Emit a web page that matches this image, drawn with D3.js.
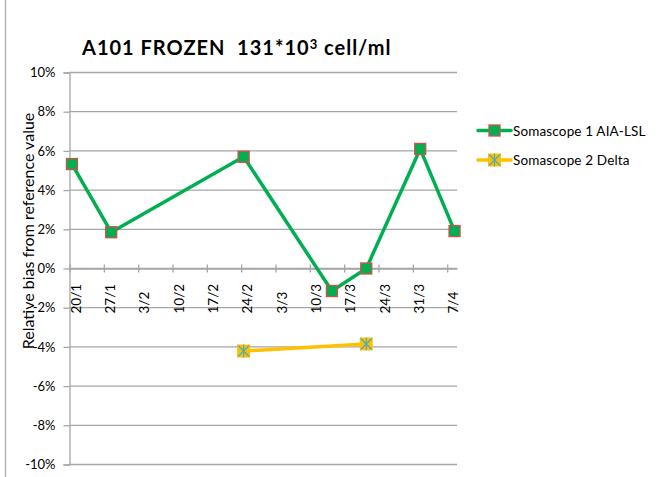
<!DOCTYPE html>
<html>
<head>
<meta charset="utf-8">
<script src="https://cdn.jsdelivr.net/npm/d3@7"></script>
<style>
  html, body { margin: 0; padding: 0; background: #ffffff; }
  svg { display: block; }
  text { font-family: Lato, "Open Sans", sans-serif; fill: #000; }
</style>
</head>
<body>
<svg id="chart" width="659" height="477"></svg>
<script>
// ---- data ----
const titleMain = "A101 FROZEN  131*10";
const titleSup = "3";
const titleEnd = " cell/ml";
const yAxisLabel = "Relative bias from reference value";
const yTicks = [-0.10, -0.08, -0.06, -0.04, -0.02, 0, 0.02, 0.04, 0.06, 0.08, 0.10];
const xTickLabels = ["20/1", "27/1", "3/2", "10/2", "17/2", "24/2", "3/3", "10/3", "17/3", "24/3", "31/3", "7/4"];
const series1Name = "Somascope 1 AIA-LSL";
const series1Dates = ["2015-01-20", "2015-01-28", "2015-02-24", "2015-03-14", "2015-03-21", "2015-04-01", "2015-04-08"];
const series1Values = [0.0533, 0.0185, 0.0570, -0.0115, 0.0000, 0.0610, 0.0191];
const series2Name = "Somascope 2 Delta";
const series2Dates = ["2015-02-24", "2015-03-21"];
const series2Values = [-0.0421, -0.0385];
const xDomainStart = "2015-01-20";
const xDomainEnd = "2015-04-09";

// ---- setup ----
const svg = d3.select("#chart");
const parse = d3.utcParse("%Y-%m-%d");
const pLeft = 69.5, pRight = 457, pTop = 72.5, pBottom = 464.5;

const x = d3.scaleUtc().domain([parse(xDomainStart), parse(xDomainEnd)]).range([pLeft, pRight]);
const y = d3.scaleLinear().domain([-0.10, 0.10]).range([pBottom, pTop]);
const mid = d => d3.utcHour.offset(parse(d), 12);
const pct = d => d3.format(".0%")(d).replace("\u2212", "-");

// chart border on left
svg.append("line").attr("x1", 5.5).attr("x2", 5.5).attr("y1", 0).attr("y2", 477)
  .attr("stroke", "#b3b3b3").attr("stroke-width", 1.5);

// gridlines
svg.append("g").selectAll("line").data(yTicks).join("line")
  .attr("x1", pLeft).attr("x2", pRight)
  .attr("y1", d => y(d)).attr("y2", d => y(d))
  .attr("stroke", "#a6a6a6").attr("stroke-width", 1.3);

// y axis
const yAxis = d3.axisLeft(y).tickValues(yTicks).tickSize(6).tickPadding(8).tickFormat(pct);
const gy = svg.append("g").attr("transform", `translate(${pLeft},0)`).call(yAxis);
gy.select(".domain").attr("stroke", "#a6a6a6").attr("stroke-width", 1.3);
gy.selectAll(".tick line").attr("stroke", "#a6a6a6").attr("stroke-width", 1.3);
gy.selectAll(".tick text").style("font-family", "Lato, sans-serif").style("font-size", "13px").attr("fill", "#000");

// x axis at zero
const tickDates = xTickLabels.map((lbl, i) => d3.utcDay.offset(parse(xDomainStart), i * 7));
const xAxis = d3.axisBottom(x).tickValues(tickDates).tickSize(0).tickFormat(() => "");
const gx = svg.append("g").attr("transform", `translate(0,${y(0)})`).call(xAxis);
gx.select(".domain").attr("stroke", "#a6a6a6").attr("stroke-width", 1.3);
gx.selectAll(".tick line").attr("y1", -4).attr("y2", 4).attr("stroke", "#a6a6a6").attr("stroke-width", 1.3);
gx.selectAll(".tick").append("text")
  .attr("transform", "translate(5.5,45) rotate(-90)")
  .attr("text-anchor", "start")
  .attr("dominant-baseline", "central")
  .style("font-family", "Lato, sans-serif")
  .style("font-size", "13.5px")
  .attr("fill", "#000")
  .text((d, i) => xTickLabels[i]);

// y axis label
svg.append("text")
  .attr("transform", `translate(27,231) rotate(-90)`)
  .attr("text-anchor", "middle")
  .attr("dominant-baseline", "central")
  .style("font-size", "16px")
  .text(yAxisLabel);

// title
const t = svg.append("text").attr("x", 82).attr("y", 55)
  .style("font-size", "20px").style("font-weight", "bold")
  .style("letter-spacing", "1px")
  .style("white-space", "pre");
t.append("tspan").text(titleMain);
t.append("tspan").attr("dy", -6).style("font-size", "13px").text(titleSup);
t.append("tspan").attr("dy", 6).text(titleEnd);

// lines
const line = d3.line().x(d => x(d.date)).y(d => y(d.v));
const s1 = series1Dates.map((d, i) => ({ date: mid(d), v: series1Values[i] }));
const s2 = series2Dates.map((d, i) => ({ date: mid(d), v: series2Values[i] }));

svg.append("path").datum(s1).attr("d", line).attr("fill", "none")
  .attr("stroke", "#00b050").attr("stroke-width", 3.5).attr("stroke-linejoin", "round");
svg.append("path").datum(s2).attr("d", line).attr("fill", "none")
  .attr("stroke", "#ffc000").attr("stroke-width", 3.5).attr("stroke-linejoin", "round");

// markers
function squareMarker(g, cx, cy) {
  g.append("rect").attr("x", cx - 5.5).attr("y", cy - 5.5).attr("width", 11).attr("height", 11)
    .attr("fill", "#00b050").attr("stroke", "#d0504d").attr("stroke-width", 1.3);
}
function starMarker(g, cx, cy) {
  g.append("rect").attr("x", cx - 6.5).attr("y", cy - 6.5).attr("width", 13).attr("height", 13)
    .attr("fill", "#ffc000");
  const s = 5.5;
  g.append("path")
    .attr("d", `M${cx - s},${cy - s}L${cx + s},${cy + s}M${cx - s},${cy + s}L${cx + s},${cy - s}M${cx},${cy - s - 1}L${cx},${cy + s + 1}`)
    .attr("stroke", "#4bacc6").attr("stroke-width", 1.2).attr("fill", "none");
}
const mk = svg.append("g");
s1.forEach(d => squareMarker(mk, x(d.date), y(d.v)));
s2.forEach(d => starMarker(mk, x(d.date), y(d.v)));

// legend
const lg = svg.append("g");
const legendItems = [
  { name: series1Name, color: "#00b050", marker: squareMarker, yy: 130.5 },
  { name: series2Name, color: "#ffc000", marker: starMarker, yy: 160 }
];
legendItems.forEach(it => {
  lg.append("line").attr("x1", 478).attr("x2", 511).attr("y1", it.yy).attr("y2", it.yy)
    .attr("stroke", it.color).attr("stroke-width", 3.5).attr("stroke-linecap", "round");
  it.marker(lg, 494.5, it.yy);
  lg.append("text").attr("x", 513).attr("y", it.yy).attr("dominant-baseline", "central")
    .style("font-size", "13.5px").style("letter-spacing", "0.15px").text(it.name);
});
</script>
</body>
</html>
